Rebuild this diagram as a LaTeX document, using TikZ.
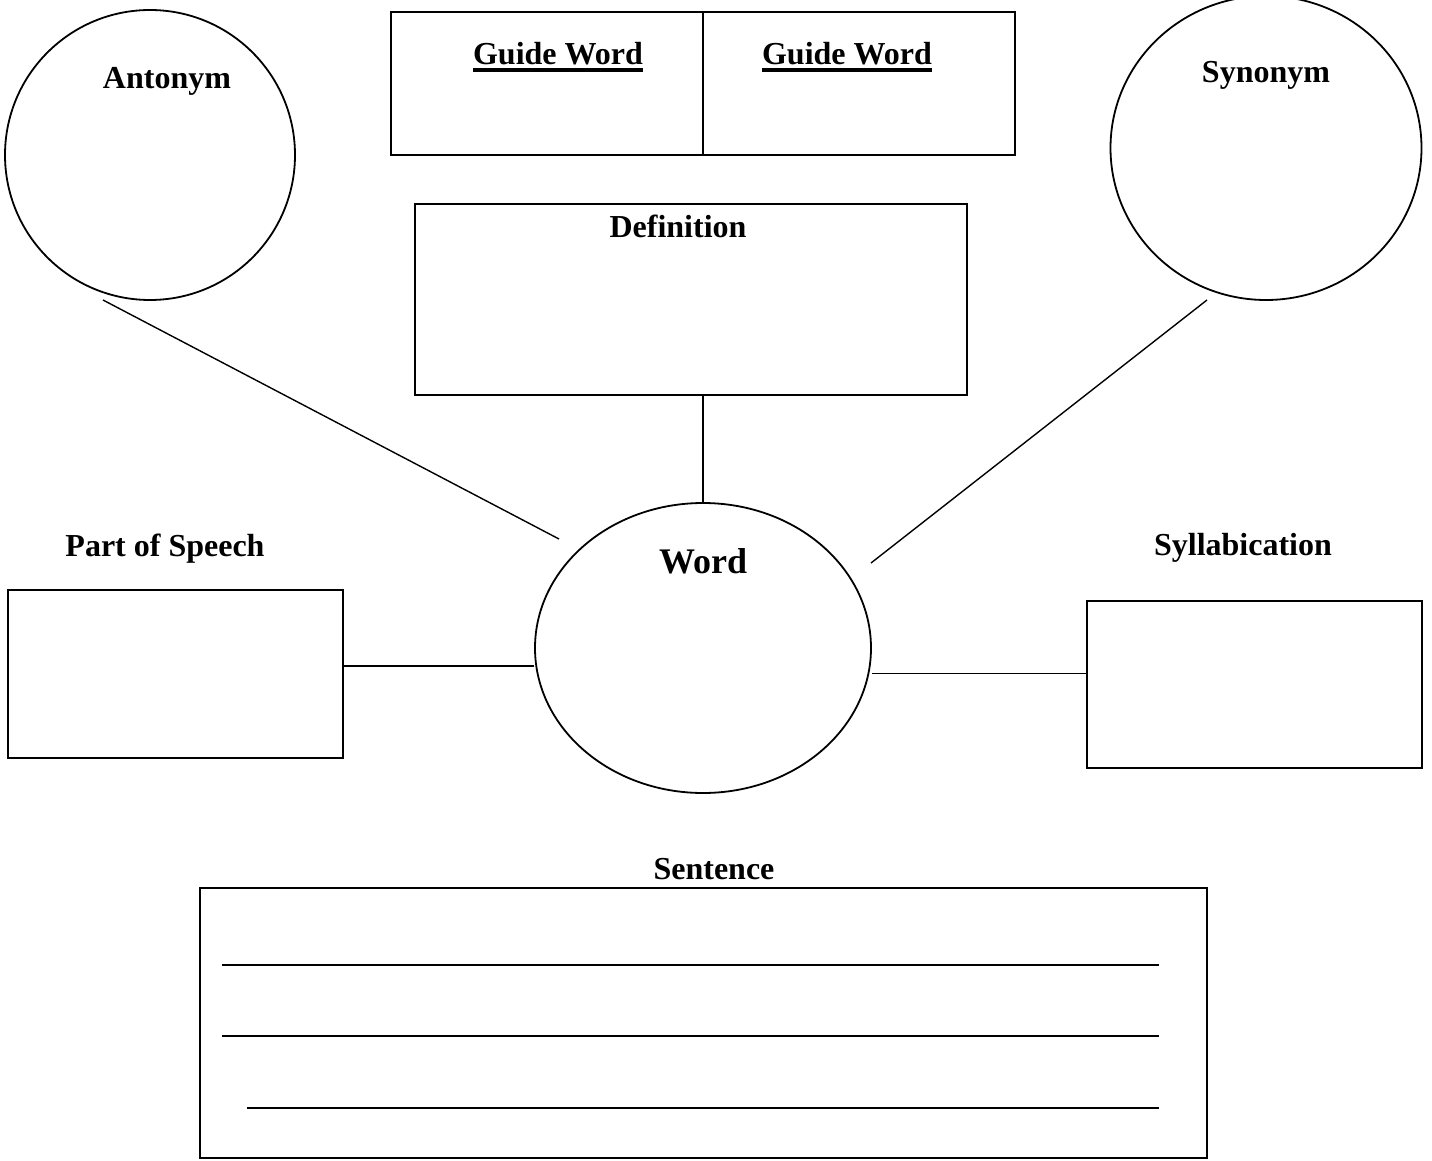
\documentclass[tikz,border=0pt]{standalone}
\usepackage{fontspec}
\setmainfont{Liberation Serif}
\usetikzlibrary{shapes.geometric}
\newcommand{\ulword}[1]{\setbox0\hbox{#1}\rlap{\rule[-7pt]{\wd0}{4pt}}\box0}
\begin{document}
\begin{tikzpicture}[x=1pt, y=-1pt, line width=1.4pt,
		box/.style={draw, rectangle, inner sep=0pt, line width=2pt},
		bubble/.style={draw, ellipse, inner sep=0pt, line width=1.8pt},
		lbl/.style={anchor=base, inner sep=0pt, font=\fontsize{32}{38}\selectfont\bfseries}]
		\useasboundingbox (0,0) rectangle (1432,1161);
		% Circles
		\node[bubble, minimum width=290pt, minimum height=290pt] (antonym) at (150,155) {};
		\node[bubble, minimum width=311pt, minimum height=304pt] (synonym) at (1266,148) {};
		\node[bubble, minimum width=336pt, minimum height=290pt] (word) at (703,648) {};
		% Boxes
		\node[box, minimum width=624pt, minimum height=143pt] (guide) at (703,83.5) {};
		\draw[line width=2pt] (guide.north) -- (guide.south);
		\node[box, minimum width=552pt, minimum height=191pt] (definition) at (691,299.5) {};
		\node[box, minimum width=335pt, minimum height=168pt] (speech) at (175.5,674) {};
		\node[box, minimum width=335pt, minimum height=167pt] (syllab) at (1254.5,684.5) {};
		\node[box, minimum width=1007pt, minimum height=270pt] (sentence) at (703.5,1023) {};
		% Labels
		\node[lbl] (antlbl) at (167,89) {Antonym};
		\node[lbl] (synlbl) at (1266,83) {Synonym};
		\node[lbl] (gwleft) at (558,65) {\ulword{Guide Word}};
		\node[lbl] (gwright) at (847,65) {\ulword{Guide Word}};
		\node[lbl] (deflbl) at (678,237) {Definition};
		\node[lbl, font=\fontsize{36}{43}\selectfont\bfseries] (wordlbl) at (703,573) {Word};
		\node[lbl] (poslbl) at (165,556) {Part of Speech};
		\node[lbl] (syllbl) at (1243,555) {Syllabication};
		\node[lbl] (senlbl) at (714,879) {Sentence};
		% Free ends of the spokes
		\coordinate (antfoot) at ([shift={(-47,145)}]antonym.center);
		\coordinate (wordnw) at ([shift={(-144,-109)}]word.center);
		\coordinate (synfoot) at ([shift={(-59,152)}]synonym.center);
		\coordinate (wordne) at ([shift={(168,-85)}]word.center);
		% Connectors
		\draw (antfoot) -- (wordnw);
		\draw (synfoot) -- (wordne);
		\draw (word.north |- definition.south) -- (word.north);
		\draw ([yshift=8pt]speech.east) -- ([yshift=8pt]speech.east -| word.west);
		\draw ([yshift=11pt]syllab.west) -- ([yshift=11pt]syllab.west -| word.east);
		% Writing lines
		\draw (222,965) -- (1159,965);
		\draw (222,1036) -- (1159,1036);
		\draw (247,1108) -- (1159,1108);
	\end{tikzpicture}
\end{document}
